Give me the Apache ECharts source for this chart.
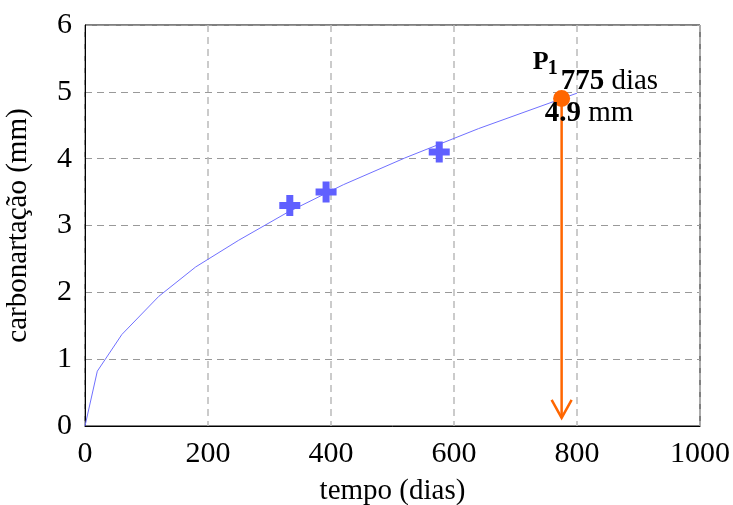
<!DOCTYPE html>
<html>
<head>
<meta charset="utf-8">
<script src="https://cdn.jsdelivr.net/npm/echarts@6/dist/echarts.min.js"></script>
<style>html,body{margin:0;padding:0;background:#fff}#c{width:733px;height:505px}</style>
</head>
<body>
<div id="c"></div>
<script>
// model curve (tempo, carbonatação)
var curveT = [0, 20, 60, 120, 180, 250, 330, 420, 520, 640, 800];
var curveY = [0, 0.82, 1.37, 1.94, 2.38, 2.78, 3.20, 3.61, 4.01, 4.45, 4.98];
// measured points
var measT = [333, 392, 576];
var measY = [3.30, 3.50, 4.10];
// highlighted point P1
var pointT = [775];
var pointY = [4.9];
var arrowEndY = [0.12];
// ticks
var xTicks = [0, 200, 400, 600, 800, 1000];
var yTicks = [0, 1, 2, 3, 4, 5, 6];

var FONT = 'Liberation Serif';
var chart = echarts.init(document.getElementById('c'));

var curveData = curveT.map(function (t, i) { return [t, curveY[i]]; });
var measData = measT.map(function (t, i) { return [t, measY[i]]; });
var annData = pointT.map(function (t, i) { return [t, pointY[i], arrowEndY[i]]; });

var plusPath = 'path://M7,0 H14 V7 H21 V14 H14 V21 H7 V14 H0 V7 H7 Z';

chart.setOption({
  animation: false,
  grid: { left: 85, right: 33, top: 25, bottom: 79, containLabel: false, outerBoundsMode: 'none',
          show: true, borderColor: '#000', borderWidth: 1 },
  xAxis: {
    type: 'value', min: xTicks[0], max: xTicks[xTicks.length - 1], interval: 200,
    name: 'tempo (dias)', nameLocation: 'middle', nameGap: 51,
    nameTextStyle: { fontFamily: FONT, fontSize: 29, color: '#000' },
    axisLine: { show: true, lineStyle: { color: '#000', width: 1 } },
    axisTick: { show: false },
    axisLabel: { fontFamily: FONT, fontSize: 30, color: '#000', margin: 13,
                 formatter: function (v) { return String(v); } },
    splitLine: { show: true, lineStyle: { color: '#bbb', width: 1.5, type: [7, 5] } }
  },
  yAxis: {
    type: 'value', min: yTicks[0], max: yTicks[yTicks.length - 1], interval: 1,
    name: 'carbonartação (mm)', nameLocation: 'middle', nameGap: 52,
    nameTextStyle: { fontFamily: FONT, fontSize: 29, color: '#000' },
    axisLine: { show: true, lineStyle: { color: '#000', width: 1 } },
    axisTick: { show: false },
    axisLabel: { fontFamily: FONT, fontSize: 30, color: '#000', margin: 13,
                 formatter: function (v) { return String(v); } },
    splitLine: { show: true, lineStyle: { color: '#999', width: 1, type: [7, 5] } }
  },
  series: [
    {
      type: 'line', data: curveData, showSymbol: false, symbol: 'none',
      lineStyle: { color: '#7070ff', width: 1 }, z: 2
    },
    {
      type: 'scatter', data: measData, symbol: plusPath, symbolSize: 21,
      itemStyle: { color: '#6060ff', opacity: 1 }, z: 3
    },
    {
      type: 'custom', data: annData, z: 5,
      renderItem: function (params, api) {
        var p = api.coord([api.value(0), api.value(1)]);
        var e = api.coord([api.value(0), api.value(2)]);
        var orange = '#ff6600';
        return {
          type: 'group',
          children: [
            { type: 'line', shape: { x1: p[0], y1: p[1], x2: e[0], y2: e[1] },
              style: { stroke: orange, lineWidth: 2.5 } },
            { type: 'polyline', shape: { points: [[e[0] - 10, e[1] - 18], [e[0], e[1]], [e[0] + 10, e[1] - 18]] },
              style: { stroke: orange, lineWidth: 2.5, fill: null } },
            { type: 'circle', shape: { cx: p[0], cy: p[1], r: 8.5 }, style: { fill: orange } },
            { type: 'text', x: p[0] - 29, y: p[1] - 36,
              style: { text: 'P', font: 'bold 26px ' + FONT, fill: '#000', verticalAlign: 'middle', align: 'left' } },
            { type: 'text', x: p[0] - 14, y: p[1] - 30,
              style: { text: '1', font: 'bold 20px ' + FONT, fill: '#000', verticalAlign: 'middle', align: 'left' } },
            { type: 'text', x: p[0] - 1, y: p[1] - 17,
              style: { text: '{b|775} dias', verticalAlign: 'middle', align: 'left',
                       font: '29px ' + FONT, fill: '#000',
                       rich: { b: { fontWeight: 'bold', fontFamily: FONT, fontSize: 29, fill: '#000' } } } },
            { type: 'text', x: p[0] - 17, y: p[1] + 15,
              style: { text: '{b|4.9} mm', verticalAlign: 'middle', align: 'left',
                       font: '29px ' + FONT, fill: '#000',
                       rich: { b: { fontWeight: 'bold', fontFamily: FONT, fontSize: 29, fill: '#000' } } } }
          ]
        };
      }
    }
  ]
});
</script>
</body>
</html>
